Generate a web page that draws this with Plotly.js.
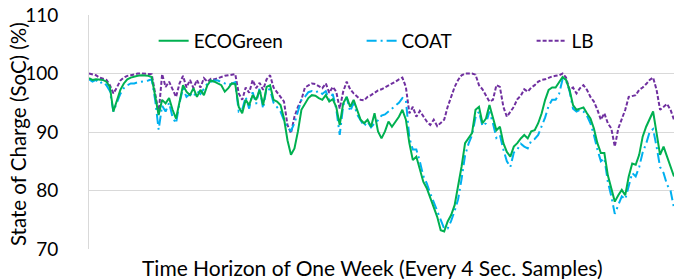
<!DOCTYPE html>
<html>
<head>
<meta charset="utf-8">
<script src="https://cdn.plot.ly/plotly-3.0.1.min.js"></script>
<style>html,body{margin:0;padding:0;background:#fff;overflow:hidden}</style>
</head>
<body>
<div id="chart" style="width:674px;height:279px"></div>
<script>
// hour index across one week (0..168)
const hours = Array.from({length: 169}, (_, i) => i);

const ecogreen = [
99.2,98.9,99.0,98.9,98.9,98.6,97.7,93.5,95.5,97.2,
98.3,99.0,99.3,99.5,99.6,99.7,99.7,99.6,99.4,96.0,
92.9,95.5,94.9,95.8,93.8,92.3,95.5,98.0,96.9,96.3,
97.5,96.0,97.2,96.3,98.0,98.8,98.6,98.3,98.0,96.9,
97.5,98.3,98.2,94.3,93.2,95.5,94.6,96.3,95.5,97.2,
94.6,97.7,98.0,95.5,95.2,94.6,92.3,88.6,86.1,87.2,
90.1,93.8,94.9,95.8,96.3,96.2,95.8,95.5,96.3,95.2,
95.6,94.3,91.2,94.9,96.0,94.3,95.5,93.8,92.1,91.5,
92.1,90.9,93.2,90.1,88.9,90.1,91.8,90.9,91.8,92.6,
93.8,92.1,88.1,85.2,85.8,83.8,81.5,80.4,78.7,77.2,
75.5,73.2,73.0,74.7,75.8,77.5,80.7,84.1,88.1,88.9,
89.8,93.8,94.3,91.5,92.3,94.6,92.3,90.3,90.9,88.1,
86.6,85.8,87.5,88.1,88.9,89.5,88.9,90.1,90.3,91.5,
93.2,95.5,97.2,97.6,97.6,98.4,99.4,98.9,97.2,94.6,
93.8,94.0,94.2,93.2,92.3,90.6,88.1,86.4,86.4,82.6,
80.4,78.1,79.2,80.1,79.2,82.4,84.6,84.4,86.1,89.2,
90.9,92.1,93.5,89.8,86.1,87.5,85.8,84.4,82.4
];

const coat = [
99.0,98.6,98.9,98.3,98.6,98.0,97.0,93.5,95.0,96.5,
97.5,98.0,98.3,98.3,98.5,98.6,98.6,98.8,99.0,95.5,
90.4,94.5,93.5,95.0,92.5,91.5,95.0,97.5,96.0,96.5,
96.0,97.0,96.5,97.5,98.3,98.6,98.8,98.8,98.6,98.3,
98.0,98.3,98.5,93.5,93.8,96.0,94.0,96.8,94.8,97.5,
94.0,97.5,97.2,95.0,94.3,93.5,92.0,90.8,90.2,91.5,
93.5,95.5,96.0,96.8,97.0,96.8,97.0,96.5,97.0,95.5,
96.5,94.0,89.5,94.5,96.0,93.5,95.0,93.0,92.0,91.0,
91.8,90.8,91.5,92.0,92.8,93.0,93.5,94.0,94.5,95.0,
95.8,95.5,89.0,87.0,87.0,85.0,82.5,81.2,79.5,78.0,
76.2,75.0,73.5,73.5,74.8,76.5,78.5,82.0,86.0,88.0,
89.5,92.5,93.5,91.0,91.5,93.5,91.5,89.0,89.5,87.0,
85.0,84.0,86.5,87.0,88.0,87.5,87.2,88.5,88.8,89.5,
91.0,92.5,94.5,95.5,95.5,96.5,99.0,98.8,97.0,94.0,
93.5,93.8,93.5,92.8,91.5,89.5,87.0,85.0,85.5,81.5,
79.0,76.0,77.5,79.0,78.5,81.0,83.0,82.4,84.0,86.5,
88.0,90.0,90.5,87.5,84.0,83.0,81.0,80.0,77.0
];

const lb = [
100.0,99.9,99.7,99.3,99.1,98.9,98.0,96.6,97.6,98.8,
99.3,99.6,99.7,99.9,100.0,100.0,100.0,100.0,99.9,96.6,
93.2,99.9,97.7,98.6,97.3,96.0,98.3,99.6,97.6,98.9,
97.5,98.9,97.6,99.2,98.6,99.1,99.0,99.2,99.5,99.6,
99.7,99.8,99.9,96.6,95.5,97.6,96.7,98.9,97.5,98.4,
97.2,99.0,99.7,97.6,96.7,96.0,95.2,91.2,89.8,92.6,
94.3,95.5,97.6,98.0,98.3,98.2,97.9,97.5,98.3,96.7,
97.7,96.9,94.0,96.9,98.6,97.3,96.6,96.0,95.5,95.4,
96.0,96.3,96.7,97.1,97.3,97.6,98.0,98.3,98.6,99.0,
99.3,97.7,93.2,94.3,92.6,93.6,92.6,91.8,91.2,92.1,
91.0,91.5,92.1,94.3,96.2,97.7,98.9,99.7,100.0,100.0,
100.0,99.8,98.0,97.3,96.3,95.2,95.5,98.0,97.7,94.3,
92.6,93.5,94.3,95.6,96.2,97.3,96.9,97.6,98.0,98.6,
98.9,99.0,99.3,99.5,99.6,99.7,100.0,99.3,97.2,97.6,
96.6,97.5,98.0,97.2,96.0,95.2,93.8,92.1,93.2,91.5,
90.6,87.5,90.6,92.1,93.8,96.0,96.2,96.3,97.2,97.6,
98.2,98.9,99.3,97.2,93.8,94.3,94.8,93.8,92.1
];

const seriesNames = ["ECOGreen", "COAT", "LB"];
const yTicks = [70, 80, 90, 100, 110];

const FONT = "Lato, 'Open Sans', sans-serif";

const traces = [
  {x: hours, y: ecogreen, name: seriesNames[0], type: "scatter", mode: "lines",
   line: {color: "#00B050", width: 2}, legend: "legend"},
  {x: hours, y: coat, name: seriesNames[1], type: "scatter", mode: "lines",
   line: {color: "#00B0F0", width: 2, dash: "10px,4px,2px,4px"}, legend: "legend2"},
  {x: hours, y: lb, name: seriesNames[2], type: "scatter", mode: "lines",
   line: {color: "#7030A0", width: 2, dash: "4px,2px"}, legend: "legend3"}
];
// draw order: LB at back, then COAT, then ECOGreen on top
const ordered = [traces[2], traces[1], traces[0]];

const legBase = {orientation: "h", yanchor: "middle", xanchor: "left", y: 0.889,
  bgcolor: "rgba(0,0,0,0)", borderwidth: 0, font: {family: FONT, size: 19, color: "#000"}};

const layout = {
  width: 674, height: 279,
  margin: {l: 89, r: 0, t: 15, b: 30},
  paper_bgcolor: "#fff", plot_bgcolor: "#fff",
  showlegend: true,
  legend: Object.assign({}, legBase, {x: 0.1105}),
  legend2: Object.assign({}, legBase, {x: 0.466}),
  legend3: Object.assign({}, legBase, {x: 0.7566}),
  xaxis: {range: [0, 168], showticklabels: false, showgrid: false, zeroline: false,
    showline: false, ticks: ""},
  yaxis: {range: [70, 110], tickvals: yTicks, ticktext: yTicks.map(String),
    showgrid: true, gridcolor: "#D9D9D9", gridwidth: 1, zeroline: false,
    showline: true, linecolor: "#D9D9D9", linewidth: 1, ticks: "",
    ticklabelstandoff: 26,
    tickfont: {family: FONT, size: 19, color: "#000"}},
  annotations: [{
    text: "Time Horizon of One Week (Every 4 Sec. Samples)",
    xref: "paper", yref: "paper", x: 0.4838, y: -0.081, xanchor: "center", yanchor: "middle",
    showarrow: false, font: {family: FONT, size: 21, color: "#000"}
  }, {
    text: "State of Charge (SoC) (%)", textangle: -90,
    xref: "paper", yref: "paper", x: -0.1214, y: 0.491, xanchor: "center", yanchor: "middle",
    showarrow: false, font: {family: FONT, size: 20.5, color: "#000"}
  }]
};

Plotly.newPlot("chart", ordered, layout, {displayModeBar: false, staticPlot: true});
</script>
</body>
</html>
